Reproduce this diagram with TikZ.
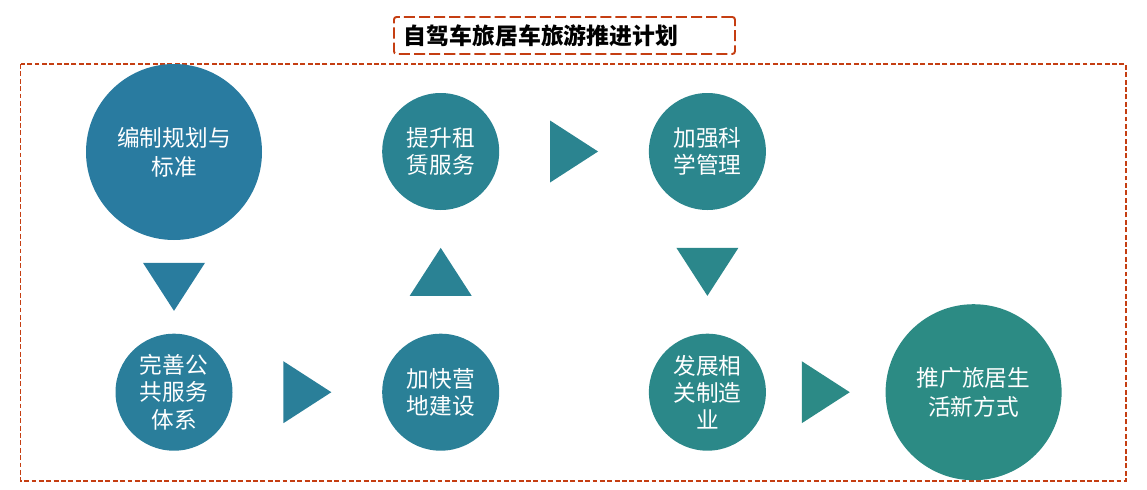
\documentclass[tikz,border=0pt]{standalone}
\usepackage{fontspec}
\usepackage{xcolor}
\usepackage{tikz}
\usetikzlibrary{positioning,calc}
\newfontfamily\cjk{Noto Sans CJK SC}
\definecolor{planblue}{RGB}{41,123,160}
\definecolor{planteal}{RGB}{44,139,132}
\definecolor{planred}{RGB}{197,62,18}

\begin{document}
\begin{tikzpicture}[
  font=\cjk\fontsize{12.9}{15.6}\selectfont,
  stage/.style={
    circle, inner sep=0pt, minimum size=2.34cm,
    align=center, text=white
  },
  bigstage/.style={stage, minimum size=3.52cm, font=\cjk\fontsize{12.9}{16.5}\selectfont},
  frame/.style={draw=planred, line width=1.1pt, dash pattern=on 2.8pt off 1.4pt},
  titlebox/.style={
    draw=planred, line width=1.1pt, dash pattern=on 6.3pt off 2.3pt,
    rounded corners=1.5pt, minimum height=0.74cm,
    text width=6.42cm, inner xsep=0.2cm, align=left,
    font=\cjk\bfseries\fontsize{13}{15.6}\selectfont
  }
]
  \useasboundingbox (0,0) rectangle (22.94,-9.78);

  \node[titlebox, anchor=north west] (title) at (7.86,-0.32) {自驾车旅居车旅游推进计划};
  \draw[frame] (0.41,-1.28) rectangle (22.52,-9.62);

  \node[bigstage, fill=planblue] (c1) at (3.48,-3.04) {编制规划与\\标准};
  \node[stage, fill=planteal!17!planblue, below=1.86cm of c1] (c2) {完善公\\共服务\\体系};
  \node[stage, fill=planteal!33!planblue, right=2.98cm of c2] (c3) {加快营\\地建设};
  \node[stage, fill=planteal!50!planblue, above=2.46cm of c3] (c4) {提升租\\赁服务};
  \node[stage, fill=planteal!67!planblue, right=2.98cm of c4] (c5) {加强科\\学管理};
  \node[stage, fill=planteal!83!planblue, below=2.46cm of c5] (c6) {发展相\\关制造\\业};
  \node[bigstage, fill=planteal, right=2.38cm of c6] (c7) {推广旅居生\\活新方式};

  \foreach \a/\b/\r/\p [count=\i] in {c1.south/c2.north/-90/8, c2.east/c3.west/0/25,
      c3.north/c4.south/90/42, c4.east/c5.west/0/58,
      c5.south/c6.north/-90/75, c6.east/c7.west/0/92} {
    \coordinate (t\i) at ($(\a)!0.5!(\b)$);
    \fill[planteal!\p!planblue, shift={(t\i)}, rotate=\r]
      (0.48,0) -- (-0.48,0.62) -- (-0.48,-0.62) -- cycle;
  }
\end{tikzpicture}
\end{document}
